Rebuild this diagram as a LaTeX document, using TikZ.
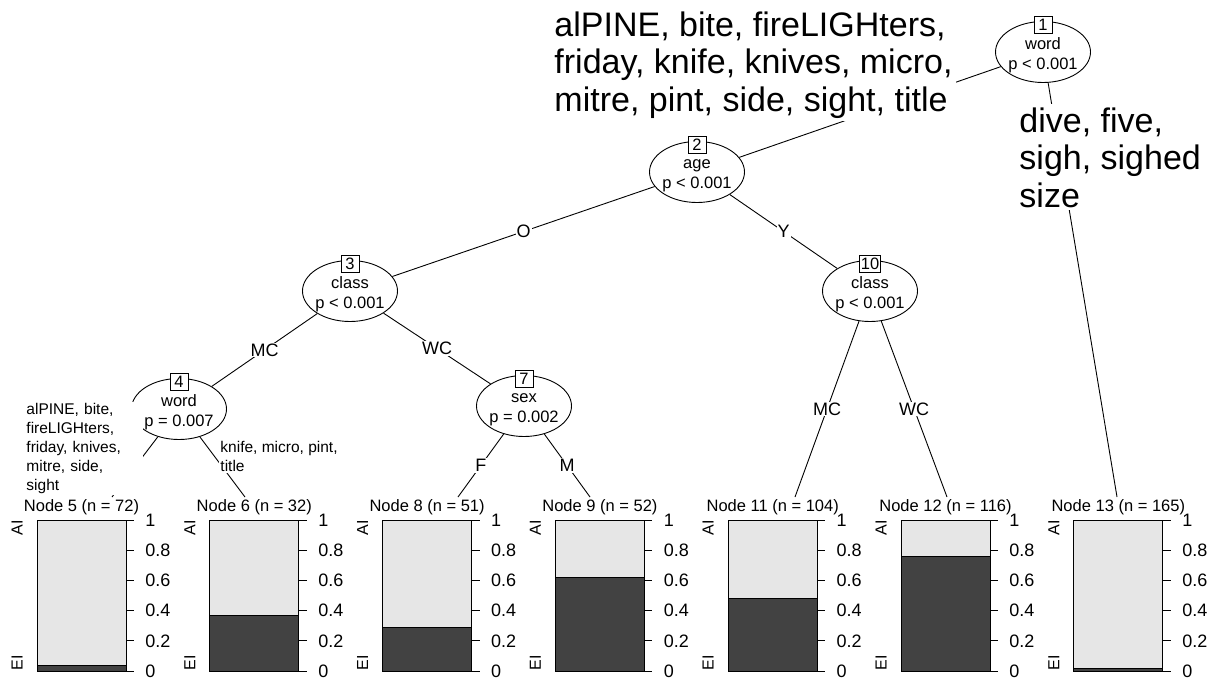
\documentclass[tikz,border=0pt]{standalone}
\usepackage{fontspec}
\setmainfont{Liberation Sans}
\usetikzlibrary{shapes.geometric}
\definecolor{barlight}{HTML}{E6E6E6}
\definecolor{bardark}{HTML}{424242}
\begin{document}
\begin{tikzpicture}[x=1pt, y=-1pt, line width=0.9pt,
  inner/.style={ellipse, draw, fill=white, minimum width=95pt, minimum height=61pt, inner sep=0pt},
  itext/.style={align=center, font=\fontsize{16.5}{20}\selectfont, inner sep=0pt},
  idbox/.style={draw, fill=white, font=\fontsize{16.5}{20}\selectfont, inner sep=1.5pt, minimum height=17pt, minimum width=18pt},
  elabel/.style={fill=white, font=\fontsize{18}{20}\selectfont, inner sep=1pt},
  biglabel/.style={fill=white, align=left, font=\fontsize{34}{37.5}\selectfont, inner sep=3pt, anchor=north west},
  leaflabel/.style={fill=white, align=left, font=\fontsize{15.5}{19}\selectfont, inner sep=1pt, anchor=north west},
  head/.style={font=\fontsize{16.5}{20}\selectfont, inner sep=0pt},
  tick/.style={font=\fontsize{18}{20}\selectfont, inner sep=0pt, anchor=west},
  ylab/.style={font=\fontsize{16}{18}\selectfont, inner sep=0pt, rotate=90}]
  \useasboundingbox (0,0) rectangle (1215,680);
  % inner nodes
  \node[inner] (n1) at (1043,52) {};
  \node[itext] (t1) at (1043,55.5) {word\\p < 0.001};
  \node[inner] (n2) at (697,172) {};
  \node[itext] (t2) at (697,175.5) {age\\p < 0.001};
  \node[inner] (n3) at (350,291) {};
  \node[itext] (t3) at (350,294.5) {class\\p < 0.001};
  \node[inner] (n4) at (179,409) {};
  \node[itext] (t4) at (179,412.5) {word\\p = 0.007};
  \node[inner] (n7) at (524,406) {};
  \node[itext] (t7) at (524,409.5) {sex\\p = 0.002};
  \node[inner] (n10) at (870,291) {};
  \node[itext] (t10) at (870,294.5) {class\\p < 0.001};
  % ends of the edges to the leaves
  \coordinate (e5) at (112,497);
  \coordinate (e6) at (245,497);
  \coordinate (e8) at (458,497);
  \coordinate (e9) at (590,497);
  \coordinate (e11) at (795,497);
  \coordinate (e12) at (947,497);
  \coordinate (e13) at (1117,497);
  % edges
  \draw (n1) -- (n2);
  \node[biglabel] (l12) at (551,8) {alPINE, bite, fireLIGHters,\\friday, knife, knives, micro,\\mitre, pint, side, sight, title};
  \draw (n1) -- (e13);
  \node[biglabel] (l113) at (1016,104) {dive, five,\\sigh, sighed\\size};
  \draw (n2) -- node[elabel] (l23) {O} (n3);
  \draw (n2) -- node[elabel] (l210) {Y} (n10);
  \draw (n3) -- node[elabel] (l34) {MC} (n4);
  \draw (n3) -- node[elabel] (l37) {WC} (n7);
  \draw (n4) -- (e5);
  \node[leaflabel, text width=116pt] (l45) at (25,402) {alPINE, bite,\\fireLIGHters,\\friday, knives,\\mitre, side,\\sight};
  \draw (n4) -- (e6);
  \node[leaflabel] (l46) at (219,440) {knife, micro, pint,\\title};
  \draw (n7) -- node[elabel] (l78) {F} (e8);
  \draw (n7) -- node[elabel] (l79) {M} (e9);
  \draw (n10) -- node[elabel] (l1011) {MC} (e11);
  \draw (n10) -- node[elabel] (l1012) {WC} (e12);
  % number boxes
  \node[idbox] (b1) at (1043,25) {1};
  \node[idbox] (b2) at (697,145) {2};
  \node[idbox] (b3) at (350,264) {3};
  \node[idbox] (b4) at (179,382) {4};
  \node[idbox] (b7) at (524,379) {7};
  \node[idbox] (b10) at (870,264) {10};
  % leaf panels
  \foreach \k/\L/\f/\n in {5/37/0.04/72, 6/209.8/0.37/32, 8/382.6/0.29/51, 9/555.4/0.62/52,
                           11/728.2/0.48/104, 12/901/0.76/116, 13/1073.8/0.018/165} {
    \fill[barlight] (\L,520) rectangle ++(89,151);
    \filldraw[fill=bardark] (\L,671) rectangle ++(89,-151*\f);
    \draw (\L,520) rectangle ++(89,151);
    \node[head] (h\k) at ({\L+44.5},507) {Node \k{} (n = \n)};
    \node[ylab] (ya\k) at ({\L-20},528) {AI};
    \node[ylab] (ye\k) at ({\L-20},663) {EI};
    \foreach \t/\lab [count=\i] in {0/0, 0.2/0.2, 0.4/0.4, 0.6/0.6, 0.8/0.8, 1/1} {
      \draw ({\L+89},{671-151*\t}) -- ++(8,0);
      \node[tick] (k\k-\i) at ({\L+108},{671-151*\t}) {\lab};
    }
  }
\end{tikzpicture}
\end{document}
